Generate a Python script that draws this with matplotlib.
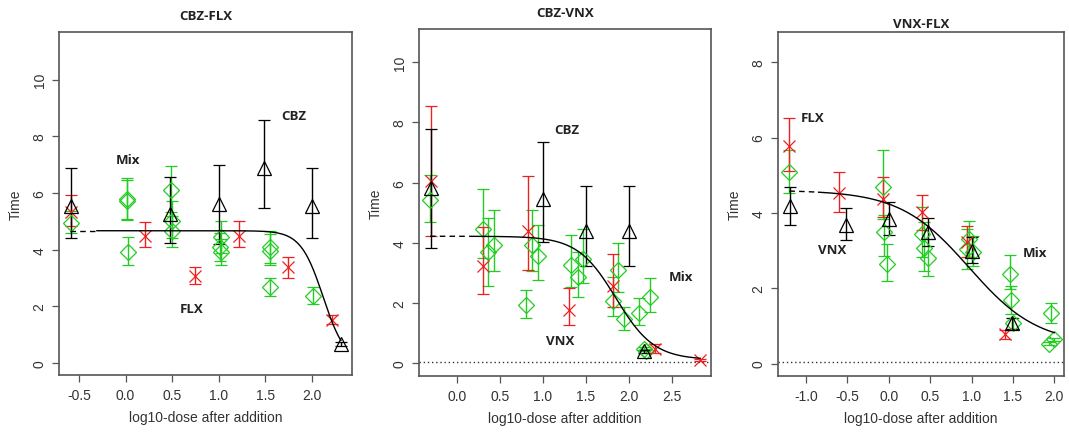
import numpy as np
import matplotlib
matplotlib.use("Agg")
import matplotlib.pyplot as plt

plt.rcParams['font.family'] = ['Liberation Sans', 'DejaVu Sans']

# ---- CBZ-FLX ----
cf_cbz_x = [-0.59, 0.48, 1.0, 1.485, 2.0, 2.31]
cf_cbz_y = [5.55, 5.26, 5.61, 6.9, 5.55, 0.67]
cf_cbz_lo = [4.40, 4.22, 4.20, 5.47, 4.43, 0.60]
cf_cbz_hi = [6.87, 6.58, 6.99, 8.59, 6.90, 0.74]

cf_flx_x = [-0.59, 0.21, 0.74, 1.22, 1.74, 2.22]
cf_flx_y = [5.32, 4.49, 3.08, 4.49, 3.38, 1.53]
cf_flx_lo = [4.85, 4.08, 2.78, 4.08, 3.02, 1.38]
cf_flx_hi = [5.93, 4.99, 3.40, 5.02, 3.73, 1.69]

cf_mix_x = [-0.59, 0.01, 0.02, 0.03, 0.49, 0.50, 0.50, 1.02, 1.01, 1.02, 1.55, 1.55, 1.55, 2.01]
cf_mix_y = [4.96, 5.79, 5.72, 3.93, 6.12, 5.02, 4.65, 4.44, 4.08, 3.93, 4.08, 3.96, 2.67, 2.38]
cf_mix_lo = [4.58, 5.05, 5.08, 3.47, 5.32, 4.40, 4.08, 3.90, 3.60, 3.46, 3.53, 3.46, 2.38, 2.08]
cf_mix_hi = [5.35, 6.53, 6.45, 4.46, 6.94, 5.73, 5.20, 5.02, 4.60, 4.38, 4.67, 4.55, 3.02, 2.67]

# ---- CBZ-VNX ----
cv_cbz_x = [-0.30, 1.0, 1.5, 2.0, 2.18]
cv_cbz_y = [5.81, 5.46, 4.39, 4.41, 0.40]
cv_cbz_lo = [3.82, 4.02, 3.24, 3.24, 0.34]
cv_cbz_hi = [7.79, 7.36, 5.88, 5.90, 0.46]

cv_vnx_x = [-0.30, 0.31, 0.83, 1.31, 1.82, 2.31, 2.83]
cv_vnx_y = [6.04, 3.24, 4.39, 1.78, 2.58, 0.48, 0.12]
cv_vnx_lo = [4.22, 2.30, 3.11, 1.27, 1.86, 0.34, 0.08]
cv_vnx_hi = [8.53, 4.52, 6.21, 2.50, 3.63, 0.64, 0.16]

cv_mix_x = [-0.31, 0.30, 0.36, 0.43, 0.81, 0.88, 0.95, 1.33, 1.41, 1.47,
            1.82, 1.88, 1.95, 2.12, 2.25, 2.18, 2.20]
cv_mix_y = [5.43, 4.46, 3.69, 3.93, 1.94, 3.93, 3.55, 3.28, 2.88, 3.47,
            2.06, 3.11, 1.47, 1.67, 2.19, 0.48, 0.42]
cv_mix_lo = [4.68, 3.49, 2.56, 3.05, 1.50, 3.05, 2.77, 2.52, 2.21, 2.66,
             1.56, 2.38, 1.12, 1.28, 1.69, 0.42, 0.36]
cv_mix_hi = [6.26, 5.79, 4.82, 5.09, 2.45, 5.10, 4.61, 4.27, 3.71, 4.46,
             2.86, 4.00, 1.88, 2.16, 2.82, 0.54, 0.48]

# ---- VNX-FLX ----
vf_vnx_x = [-1.197, -0.514, 0.008, 0.478, 1.01, 1.494]
vf_vnx_y = [4.17, 3.68, 3.84, 3.48, 2.99, 1.09]
vf_vnx_lo = [3.69, 3.29, 3.41, 3.11, 2.67, 0.91]
vf_vnx_hi = [4.68, 4.12, 4.28, 3.86, 3.35, 1.22]

vf_flx_x = [-1.21, -0.60, -0.07, 0.40, 0.94, 1.40]
vf_flx_y = [5.78, 4.53, 4.37, 4.01, 3.23, 0.78]
vf_flx_lo = [5.12, 4.01, 3.88, 3.54, 2.82, 0.66]
vf_flx_hi = [6.52, 5.09, 4.96, 4.47, 3.66, 0.89]

vf_mix_x = [-1.20, -0.064, -0.052, -0.024, 0.40, 0.43, 0.47, 0.94, 0.97, 1.02,
            1.46, 1.48, 1.50, 1.96, 1.94, 2.00]
vf_mix_y = [5.09, 4.68, 3.48, 2.64, 3.44, 3.08, 2.79, 3.04, 3.30, 2.95,
            2.39, 1.69, 1.07, 1.33, 0.53, 0.65]
vf_mix_lo = [4.54, 3.84, 2.86, 2.18, 2.82, 2.46, 2.33, 2.51, 2.82, 2.60,
             1.99, 1.31, 0.93, 1.09, 0.49, 0.61]
vf_mix_hi = [5.67, 5.68, 3.94, 3.17, 4.15, 3.75, 3.30, 3.57, 3.79, 3.39,
             2.89, 2.06, 1.22, 1.60, 0.57, 0.69]

# fitted log-logistic curves: lower, upper, slope, log10 ED50, x from, dashed until, x to
cf_fit = (0.0, 4.67, 8.3, 2.12, -0.60, -0.31, 2.31)
cv_fit = (0.12, 4.22, 4.5, 1.85, -0.31, 0.15, 2.83)
vf_fit = (0.5, 4.6, 2.4, 0.97, -1.20, -0.85, 2.00)

panels = [
    dict(title="CBZ-FLX", pos=[0.0552, 0.1356, 0.2741, 0.7885], title_y=1.03,
         xlim=(-0.715, 2.43), ylim=(-0.42, 11.68), xticks=np.arange(-0.5, 2.01, 0.5),
         yticks=[0, 2, 4, 6, 8, 10], zero_line=False,
         black=(cf_cbz_x, cf_cbz_y, cf_cbz_lo, cf_cbz_hi),
         red=(cf_flx_x, cf_flx_y, cf_flx_lo, cf_flx_hi),
         green=(cf_mix_x, cf_mix_y, cf_mix_lo, cf_mix_hi),
         fit=cf_fit,
         labels=[("CBZ", 1.807, 8.73), ("Mix", 0.026, 7.18), ("FLX", 0.706, 1.93)]),
    dict(title="CBZ-VNX", pos=[0.3920, 0.1333, 0.2732, 0.7977], title_y=1.03,
         xlim=(-0.438, 2.957), ylim=(-0.42, 11.1), xticks=np.arange(0.0, 2.51, 0.5),
         yticks=[0, 2, 4, 6, 8, 10], zero_line=True,
         black=(cv_cbz_x, cv_cbz_y, cv_cbz_lo, cv_cbz_hi),
         red=(cv_vnx_x, cv_vnx_y, cv_vnx_lo, cv_vnx_hi),
         green=(cv_mix_x, cv_mix_y, cv_mix_lo, cv_mix_hi),
         fit=cv_fit,
         labels=[("CBZ", 1.28, 7.78), ("Mix", 2.61, 2.88), ("VNX", 1.20, 0.75)]),
    dict(title="VNX-FLX", pos=[0.7278, 0.1333, 0.2675, 0.7908], title_y=1.005,
         xlim=(-1.337, 2.116), ylim=(-0.33, 8.8), xticks=np.arange(-1.0, 2.01, 0.5),
         yticks=[0, 2, 4, 6, 8], zero_line=True,
         black=(vf_vnx_x, vf_vnx_y, vf_vnx_lo, vf_vnx_hi),
         red=(vf_flx_x, vf_flx_y, vf_flx_lo, vf_flx_hi),
         green=(vf_mix_x, vf_mix_y, vf_mix_lo, vf_mix_hi),
         fit=vf_fit,
         labels=[("FLX", -0.916, 6.54), ("VNX", -0.679, 3.04), ("Mix", 1.763, 2.95)]),
]

frame_col = "#555555"
fig = plt.figure(figsize=(10.69, 4.35), dpi=100)

for p in panels:
    ax = fig.add_axes(p["pos"])
    styles = [("green", "#22CC22", "D", 8), ("red", "#EE2020", "x", 8.5), ("black", "black", "^", 10)]
    for key, col, mk, ms in styles:
        x, y, lo, hi = p[key]
        y = np.array(y)
        err = [y - np.array(lo), np.array(hi) - y]
        ax.errorbar(x, y, yerr=err, fmt=mk, color=col, mfc="none", mec=col, ms=ms,
                    mew=0.9, elinewidth=1.0, capsize=4, capthick=1.0, zorder=3)

    c, d, k, xe, x0, xdash, x1 = p["fit"]
    xs = np.linspace(x0, x1, 300)
    ys = c + (d - c) / (1 + np.exp(k * (xs - xe)))
    m = xs <= xdash
    ax.plot(xs[m], ys[m], color="black", lw=1, ls=(0, (4, 3)), zorder=4)
    ax.plot(xs[~m], ys[~m], color="black", lw=1, zorder=4)

    if p["zero_line"]:
        ax.axhline(0.03, color="#333333", lw=1, ls=(0, (1, 2)), zorder=2)

    for txt, tx, ty in p["labels"]:
        ax.text(tx, ty, txt, ha="center", va="center", fontsize=9.5, fontweight="bold",
                family=["Open Sans", "DejaVu Sans"], color="#222222")

    ax.set_xlim(*p["xlim"])
    ax.set_ylim(*p["ylim"])
    ax.set_xticks(p["xticks"])
    ax.set_xticklabels([f"{v:.1f}" for v in p["xticks"]])
    ax.set_yticks(p["yticks"])
    ax.set_yticklabels([str(v) for v in p["yticks"]], rotation=90, va="center")
    ax.tick_params(direction="out", length=5, width=0.9, color=frame_col,
                   labelsize=10, labelcolor="#333333", pad=4)
    for s in ax.spines.values():
        s.set_color(frame_col)
        s.set_linewidth(1.2)
    ax.set_xlabel("log10-dose after addition", fontsize=10, color="#333333", labelpad=6)
    ax.set_ylabel("Time", fontsize=10, color="#333333", labelpad=7)
    ax.text(0.5, p["title_y"], p["title"], transform=ax.transAxes, ha="center",
            va="bottom", fontsize=9.5, fontweight="bold",
            family=["Open Sans", "DejaVu Sans"], color="#222222")

fig.savefig("out.png", dpi=100)
